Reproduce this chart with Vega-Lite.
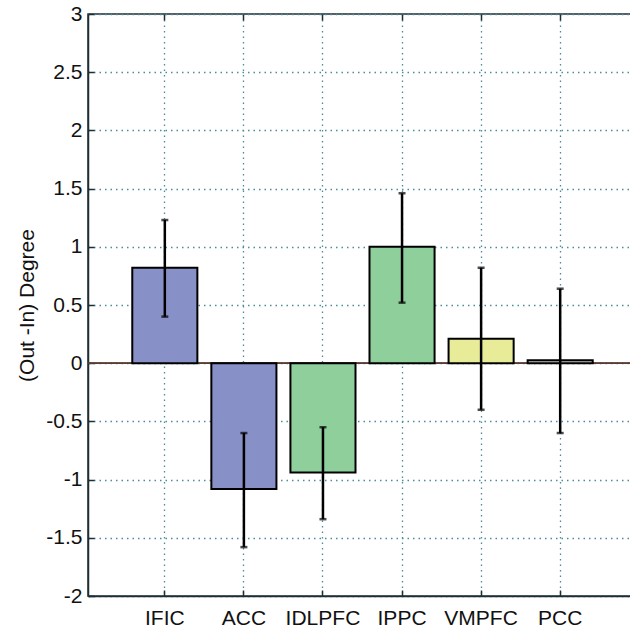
{
  "$schema": "https://vega.github.io/schema/vega-lite/v6.json",
  "width": 549,
  "height": 582,
  "autosize": {"type": "none"},
  "padding": {"left": 88, "top": 14, "right": 0, "bottom": 36},
  "background": "white",
  "config": {
    "font": "Liberation Sans",
    "view": {"stroke": "#1e2e33", "strokeWidth": 1.5}
  },
  "data": {
    "values": [
      {"region": "IFIC", "value": 0.82, "low": 0.40, "high": 1.23, "group": "A"},
      {"region": "ACC", "value": -1.08, "low": -1.58, "high": -0.60, "group": "A"},
      {"region": "IDLPFC", "value": -0.94, "low": -1.34, "high": -0.55, "group": "B"},
      {"region": "IPPC", "value": 1.00, "low": 0.52, "high": 1.46, "group": "B"},
      {"region": "VMPFC", "value": 0.21, "low": -0.40, "high": 0.82, "group": "C"},
      {"region": "PCC", "value": 0.025, "low": -0.60, "high": 0.64, "group": "D"}
    ]
  },
  "resolve": {"axis": {"x": "independent"}},
  "layer": [
    {
      "mark": {"type": "rule", "color": "#5a3d35", "strokeWidth": 1},
      "encoding": {"y": {"datum": 0, "type": "quantitative", "scale": {"domain": [-2, 3]}}}
    },
    {
      "mark": {"type": "bar", "stroke": "black", "strokeWidth": 2},
      "encoding": {
        "x": {
          "field": "region", "type": "nominal", "sort": null,
          "scale": {"paddingInner": 0.177, "paddingOuter": 0.56},
          "axis": {
            "title": null, "labelAngle": 0, "labelFontSize": 21, "labelColor": "#111",
            "labelFontWeight": 500,
            "labelPadding": 17, "tickSize": -6, "tickColor": "#1e2e33", "tickWidth": 1.5,
            "domainColor": "#1e2e33", "domainWidth": 1.5,
            "bandPosition": 0.5,
            "grid": true, "gridColor": "#4a8c9c", "gridDash": [1.5, 4], "gridWidth": 1.3
          }
        },
        "y": {
          "field": "value", "type": "quantitative",
          "scale": {"domain": [-2, 3], "nice": false},
          "axis": {
            "title": "(Out -In) Degree", "titleFontSize": 21, "titleFontWeight": "normal",
            "titleColor": "#111", "titlePadding": 8,
            "values": [-2, -1.5, -1, -0.5, 0, 0.5, 1, 1.5, 2, 2.5, 3],
            "labelExpr": "'' + datum.value",
            "labelFontSize": 21, "labelColor": "#111", "labelFontWeight": 500, "labelPadding": 12,
            "tickSize": -6, "tickColor": "#1e2e33", "tickWidth": 1.5,
            "domainColor": "#1e2e33", "domainWidth": 1.5,
            "grid": true, "gridColor": "#4a8c9c", "gridDash": [1.5, 4], "gridWidth": 1.3
          }
        },
        "color": {
          "field": "group", "type": "nominal", "legend": null,
          "scale": {"domain": ["A", "B", "C", "D"], "range": ["#8890c8", "#8fcf9c", "#e8ec98", "#c0c0c0"]}
        }
      }
    },
    {
      "mark": {"type": "rule", "color": "black", "strokeWidth": 2.5},
      "encoding": {
        "x": {
          "field": "region", "type": "nominal", "sort": null,
          "axis": {
            "orient": "top", "title": null, "labels": false, "grid": false,
            "tickSize": -6, "tickColor": "#1e2e33", "tickWidth": 1.5,
            "domain": false, "bandPosition": 0.5
          }
        },
        "y": {"field": "low", "type": "quantitative"},
        "y2": {"field": "high"}
      }
    },
    {
      "mark": {"type": "tick", "color": "black", "size": 7, "thickness": 2.5},
      "encoding": {
        "x": {"field": "region", "type": "nominal", "sort": null, "axis": null},
        "y": {"field": "low", "type": "quantitative"}
      }
    },
    {
      "mark": {"type": "tick", "color": "black", "size": 7, "thickness": 2.5},
      "encoding": {
        "x": {"field": "region", "type": "nominal", "sort": null, "axis": null},
        "y": {"field": "high", "type": "quantitative"}
      }
    }
  ]
}
